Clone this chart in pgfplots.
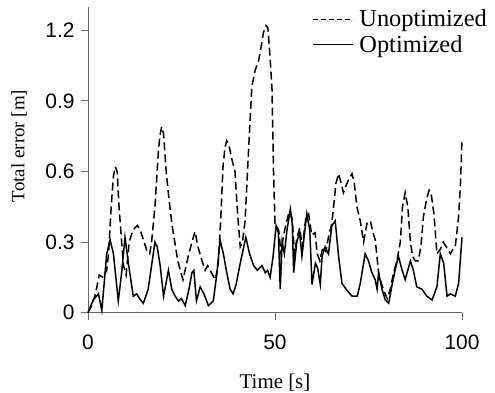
\documentclass[border=0pt]{standalone}
\usepackage{pgfplots}
\pgfplotsset{compat=1.18}
\usepackage{fontspec}
\setmainfont{Liberation Serif}
\newfontfamily\arialf{Liberation Sans}
\begin{document}
\begin{tikzpicture}
\useasboundingbox (-88bp,-80.3bp) rectangle (407bp,312.7bp);
\begin{axis}[
  at={(0,0)}, anchor=south west,
  scale only axis, width=374bp, height=306bp,
  xmin=0, xmax=100, ymin=0, ymax=1.3,
  axis x line*=bottom, axis y line*=left,
  axis line style={black!60, line width=0.8bp},
  tick align=outside, major tick length=7bp,
  tick style={black!60, line width=0.8bp},
  xtick={0,50,100}, ytick={0,0.3,0.6,0.9,1.2},
  /pgf/number format/assume math mode=true,
  ticklabel style={font=\arialf\fontsize{21}{22}\selectfont},
  yticklabel style={/pgf/number format/fixed, xshift=-3bp},
  xticklabel style={yshift=-12bp},
  xlabel={Time [s]}, ylabel={Total error [m]},
  xlabel style={font=\fontsize{21}{22}\selectfont, at={(axis description cs:0.5,-0.23)}, anchor=center},
  ylabel style={font=\fontsize{19}{20}\selectfont, at={(axis description cs:-0.184,0.545)}, anchor=center},
  legend style={draw=none, fill=none, at={(axis description cs:0.6,0.993)}, anchor=north west,
    font=\fontsize{24.5}{26}\selectfont, inner sep=0pt, row sep=5bp,
    nodes={inner xsep=2bp, inner ysep=1bp},
    /tikz/every odd column/.append style={column sep=3.5bp}},
  legend cell align=left,
  legend image code/.code={\draw[#1] (0bp,0bp) -- (40bp,0bp);},
  clip=false,
]
\addlegendimage{black, line width=1.3bp, dash pattern=on 5bp off 3bp}
\addlegendentry{Unoptimized}
\addlegendimage{black, line width=1.3bp}
\addlegendentry{Optimized}
\addplot[forget plot, black, line width=1.5bp, dash pattern=on 8bp off 4bp] coordinates {
(0,0) (1,0.03) (2,0.08) (3,0.16) (4,0.15) (5,0.18) (5.5,0.25) (6.2,0.45) (6.8,0.58) (7.3,0.62) (7.8,0.6)
(8.3,0.45) (9,0.3) (9.5,0.2) (10.2,0.16) (11,0.3) (11.8,0.34) (12.5,0.36) (13.2,0.37) (14,0.35) (15,0.3)
(15.8,0.26) (16.5,0.25) (17,0.3) (17.9,0.45) (18.8,0.68) (19.2,0.75) (19.7,0.79) (20.2,0.76) (20.8,0.62)
(21.4,0.52) (22.4,0.38) (23.2,0.3) (24,0.22) (25.4,0.14) (26.8,0.24) (27.8,0.3) (28.6,0.345) (29.4,0.28)
(30.5,0.22) (31.3,0.18) (32,0.2) (33,0.17) (34,0.14) (34.8,0.2) (35.5,0.4) (36.1,0.62) (36.6,0.7) (37.1,0.73)
(37.7,0.71) (38.5,0.65) (39.3,0.6) (40,0.42) (40.7,0.28) (41.3,0.3) (42,0.39) (42.9,0.68) (43.8,0.96)
(44.7,1.03) (45.6,1.07) (46.3,1.13) (46.9,1.19) (47.6,1.22) (48.1,1.21) (48.7,1.08) (49.2,0.95) (49.6,0.6)
(50,0.38) (51,0.35) (51.6,0.25) (52.3,0.33) (53,0.38) (53.8,0.43) (54.6,0.4) (55.2,0.25) (55.9,0.32)
(56.6,0.36) (57.3,0.28) (58.3,0.41) (59,0.42) (59.8,0.33) (60.7,0.34) (61.3,0.25) (62,0.22) (62.8,0.28)
(63.6,0.26) (64.4,0.33) (65.2,0.38) (65.6,0.44) (66.3,0.55) (67,0.59) (67.7,0.55) (68.3,0.51) (69,0.54)
(69.8,0.57) (70.6,0.59) (71.2,0.55) (71.9,0.45) (72.8,0.39) (73.7,0.3) (74.6,0.38) (75.5,0.39) (76.2,0.34)
(76.8,0.31) (77.7,0.17) (78.5,0.12) (79.2,0.09) (80,0.06) (80.8,0.1) (81.7,0.17) (82.6,0.22) (83.5,0.3)
(84.1,0.45) (84.8,0.51) (85.5,0.45) (86.2,0.3) (86.8,0.24) (87.5,0.22) (88.3,0.22) (89,0.28) (89.7,0.41)
(90.5,0.48) (91.2,0.52) (91.8,0.5) (92.5,0.42) (93.3,0.25) (94.2,0.27) (95,0.3) (95.8,0.28) (96.9,0.25)
(97.6,0.27) (98.2,0.28) (99.1,0.41) (99.6,0.55) (100,0.74)
};
\addplot[forget plot, black, line width=1.5bp] coordinates {
(0,0) (1.4,0.054) (2.8,0.08) (3.7,0.01) (5,0.25) (5.9,0.31) (6.8,0.25) (8.1,0.05) (9,0.17) (9.9,0.32)
(10.8,0.21) (12.1,0.07) (13,0.08) (13.8,0.06) (14.8,0.04) (16.1,0.1) (17.9,0.30) (18.5,0.28) (19.3,0.2)
(20.2,0.07) (21.5,0.18) (22.4,0.1) (23.3,0.07) (24.2,0.05) (25,0.06) (26,0.03) (27,0.1) (27.8,0.17)
(28.3,0.18) (29,0.05) (30,0.11) (31,0.08) (32.2,0.03) (33.5,0.05) (34.5,0.17) (35.3,0.31) (36.2,0.25)
(37.1,0.17) (38,0.1) (38.8,0.08) (39.6,0.12) (40.7,0.21) (42.2,0.32) (43.2,0.25) (44.3,0.2) (45.3,0.18)
(46.5,0.2) (47.4,0.17) (48,0.18) (48.7,0.15) (49.5,0.24) (50.3,0.37) (50.9,0.34) (51.4,0.1) (51.9,0.3)
(52.5,0.25) (53.2,0.35) (54.1,0.44) (54.6,0.38) (55,0.17) (55.8,0.3) (56.6,0.34) (57.2,0.24) (58.5,0.42)
(59.3,0.35) (59.9,0.12) (60.8,0.21) (61.4,0.19) (62.1,0.12) (62.6,0.24) (63.4,0.28) (64.3,0.25) (65.2,0.37)
(66.1,0.39) (67,0.24) (67.9,0.125) (69,0.1) (70.6,0.07) (71.5,0.07) (72,0.07) (72.8,0.125) (74.1,0.25)
(75,0.22) (75.9,0.17) (76.8,0.14) (77.3,0.1) (77.7,0.17) (78.6,0.1) (79.5,0.054) (80.4,0.04) (81.2,0.11)
(82.1,0.18) (83,0.24) (84,0.18) (84.8,0.14) (86.2,0.22) (87,0.18) (87.9,0.11) (89.3,0.1) (90.6,0.07)
(92,0.054) (93.3,0.11) (94.2,0.25) (95.1,0.21) (96,0.07) (96.9,0.08) (98.2,0.07) (99.1,0.125) (100,0.32)
};
\end{axis}
\end{tikzpicture}
\end{document}
